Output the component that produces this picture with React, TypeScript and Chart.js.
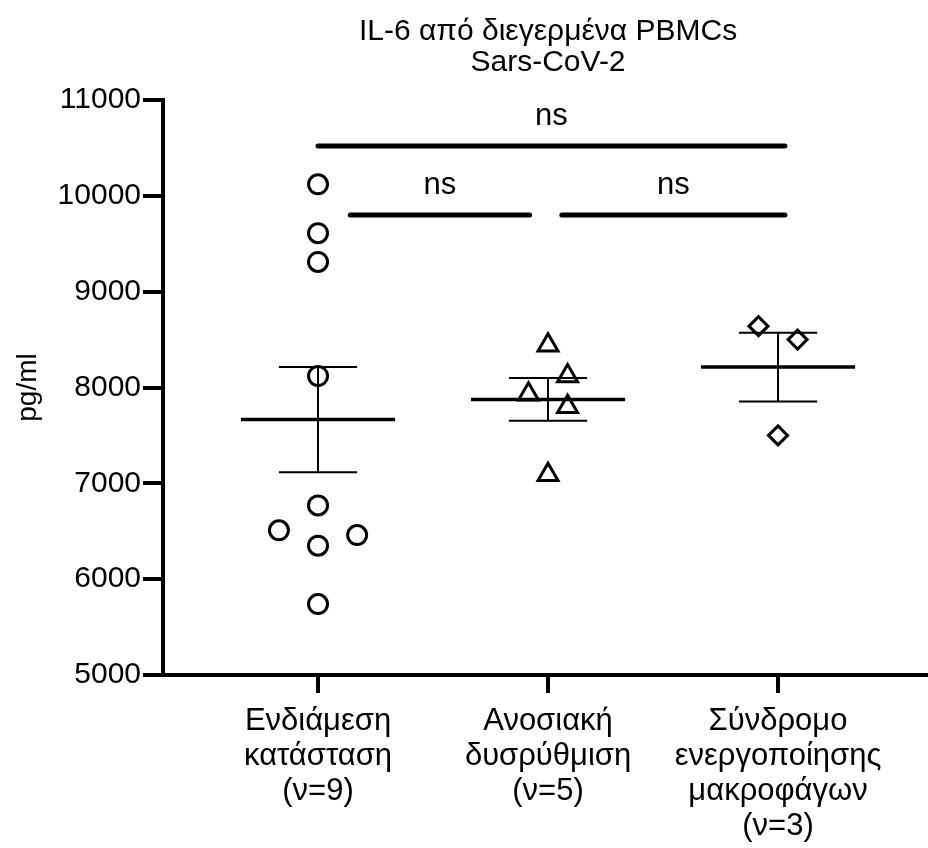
import { useEffect, useRef } from "react";
import { Chart, registerables } from "chart.js";

Chart.register(...registerables);

// ---- Text ----
const titleLines = ["IL-6 από διεγερμένα PBMCs", "Sars-CoV-2"];
const yAxisTitle = "pg/ml";
const categoryLabels = [
  ["Ενδιάμεση", "κατάσταση", "(ν=9)"],
  ["Ανοσιακή", "δυσρύθμιση", "(ν=5)"],
  ["Σύνδρομο", "ενεργοποίησης", "μακροφάγων", "(ν=3)"],
];

// ---- Data (pg/ml) ----
const group1Values = [10120, 9610, 9310, 8120, 6770, 6510, 6460, 6350, 5740];
const group2Values = [8440, 8120, 7930, 7800, 7090];
const group3Values = [8640, 8500, 7500];
// horizontal scatter columns (Prism-style jitter), in marker columns
const group1Jitter = [0, 0, 0, 0, 0, -2, 2, 0, 0];
const group2Jitter = [0, 1, -1, 1, 0];
const group3Jitter = [-1, 1, 0];

// ---- Y axis ----
const yMin = 5000;
const yMax = 11000;
const yStep = 1000;

// ---- Significance comparisons ----
const sigLabels = ["ns", "ns", "ns"];
const sigStart = [1, 1.14, 2.06];
const sigEnd = [3.03, 1.92, 3.03];
const sigY = [10520, 9800, 9800];

// ---- Styles ----
const FONT = "'Liberation Sans', Arial, Helvetica, sans-serif";
const jitterStep = 0.085;
const meanHalfWidth = 0.335;
const capHalfWidth = 0.17;
const pointStyles = ["circle", "triangle", "rectRot"];
const pointRadii = [9.5, 11.5, 9.5];

function mean(a: number[]) {
  return a.reduce((s, v) => s + v, 0) / a.length;
}
function sem(a: number[]) {
  const m = mean(a);
  const v = a.reduce((s, x) => s + (x - m) * (x - m), 0) / (a.length - 1);
  return Math.sqrt(v) / Math.sqrt(a.length);
}

const groups = [group1Values, group2Values, group3Values];
const jitters = [group1Jitter, group2Jitter, group3Jitter];

function lineDs(points: { x: number; y: number }[], width: number, cap: CanvasLineCap = "butt") {
  return {
    type: "scatter" as const,
    data: points,
    showLine: true,
    borderColor: "#000",
    backgroundColor: "#000",
    borderWidth: width,
    borderCapStyle: cap,
    pointRadius: 0,
    pointHoverRadius: 0,
    clip: false as any,
    order: 2,
  };
}

const textPlugin = {
  id: "texts",
  afterDraw(chart: any) {
    const { ctx, scales } = chart;
    const xs = scales.x;
    const ys = scales.y;
    ctx.save();
    ctx.fillStyle = "#000";
    ctx.textAlign = "center";
    ctx.textBaseline = "middle";
    // title
    ctx.font = `30px ${FONT}`;
    const cx = xs.getPixelForValue(2);
    ctx.fillText(titleLines[0], cx, 32);
    ctx.fillText(titleLines[1], cx, 63);
    // significance labels
    ctx.font = `31px ${FONT}`;
    sigLabels.forEach((lab, i) => {
      const x = (xs.getPixelForValue(sigStart[i]) + xs.getPixelForValue(sigEnd[i])) / 2;
      const y = ys.getPixelForValue(sigY[i]) - 30;
      ctx.fillText(lab, x, y);
    });
    ctx.restore();
  },
};

export default function App() {
  const ref = useRef<HTMLCanvasElement | null>(null);

  useEffect(() => {
    document.body.style.margin = "0";
    const canvas = ref.current;
    if (!canvas) return;

    const datasets: any[] = [];

    groups.forEach((vals, gi) => {
      const c = gi + 1;
      const m = mean(vals);
      const s = sem(vals);
      datasets.push(lineDs([{ x: c - meanHalfWidth, y: m }, { x: c + meanHalfWidth, y: m }], 3.5));
      datasets.push(lineDs([{ x: c, y: m - s }, { x: c, y: m + s }], 2));
      datasets.push(lineDs([{ x: c - capHalfWidth, y: m + s }, { x: c + capHalfWidth, y: m + s }], 2));
      datasets.push(lineDs([{ x: c - capHalfWidth, y: m - s }, { x: c + capHalfWidth, y: m - s }], 2));
      datasets.push({
        type: "scatter",
        data: vals.map((v, i) => ({ x: c + jitters[gi][i] * jitterStep, y: v })),
        pointStyle: pointStyles[gi],
        pointRadius: pointRadii[gi],
        pointHoverRadius: pointRadii[gi],
        pointBorderWidth: 3,
        borderColor: "#000",
        backgroundColor: "rgba(0,0,0,0)",
        showLine: false,
        clip: false,
        order: 1,
      });
    });

    sigLabels.forEach((_, i) => {
      datasets.push(
        lineDs(
          [
            { x: sigStart[i], y: sigY[i] },
            { x: sigEnd[i], y: sigY[i] },
          ],
          5,
          "round"
        )
      );
    });

    const chart = new Chart(canvas, {
      type: "scatter",
      data: { datasets },
      options: {
        responsive: false,
        animation: false,
        devicePixelRatio: 1,
        layout: { autoPadding: false, padding: { top: 100, left: 0, right: 0, bottom: 0 } },
        plugins: {
          legend: { display: false },
          tooltip: { enabled: false },
          title: { display: false },
        },
        scales: {
          x: {
            type: "linear",
            min: 0.326,
            max: 3.652,
            afterBuildTicks: (scale: any) => {
              scale.ticks = categoryLabels.map((_, i) => ({ value: i + 1 }));
            },
            afterFit: (scale: any) => {
              scale.height = 173;
              scale.paddingLeft = 0;
              scale.paddingRight = 0;
            },
            ticks: {
              autoSkip: false,
              maxRotation: 0,
              minRotation: 0,
              padding: 11,
              color: "#000",
              font: { family: FONT, size: 31, lineHeight: 1.13 },
              callback: (value: any) => categoryLabels[Math.round(Number(value)) - 1] ?? "",
            },
            grid: {
              drawOnChartArea: false,
              drawTicks: true,
              tickLength: 18,
              lineWidth: 4,
              color: "#000",
            },
            border: { display: true, color: "#000", width: 4 },
          },
          y: {
            type: "linear",
            min: yMin,
            max: yMax,
            afterFit: (scale: any) => {
              scale.width = 163;
            },
            ticks: {
              stepSize: yStep,
              padding: 2,
              color: "#000",
              font: { family: FONT, size: 30 },
              callback: (value: any) => String(value),
            },
            grid: {
              drawOnChartArea: false,
              drawTicks: true,
              tickLength: 20,
              lineWidth: 4,
              color: "#000",
            },
            border: { display: true, color: "#000", width: 4 },
            title: {
              display: true,
              text: yAxisTitle,
              color: "#000",
              font: { family: FONT, size: 28 },
              padding: { top: 11, bottom: 0 },
            },
          },
        },
      },
      plugins: [textPlugin],
    });

    return () => chart.destroy();
  }, []);

  return (
    <div style={{ width: 928, height: 848, background: "#fff" }}>
      <canvas ref={ref} width={928} height={848} style={{ display: "block" }} />
    </div>
  );
}
